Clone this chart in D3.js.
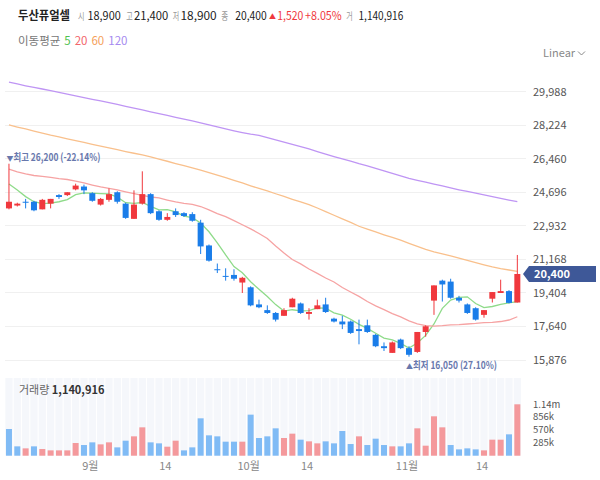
<!DOCTYPE html>
<html><head><meta charset="utf-8">
<script src="https://cdn.jsdelivr.net/npm/d3@7"></script>
<style>
html,body{margin:0;padding:0;background:#fff;}
svg{display:block;font-family:"Noto Sans CJK KR","Noto Sans",sans-serif;}
</style>
</head><body>
<svg id="chart" width="600" height="480"></svg>
<script>
// ---------- DATA ----------
const dates = ["2023-08-18","2023-08-21","2023-08-22","2023-08-23","2023-08-24","2023-08-25","2023-08-28","2023-08-29","2023-08-30","2023-08-31",
"2023-09-01","2023-09-04","2023-09-05","2023-09-06","2023-09-07","2023-09-08","2023-09-11","2023-09-12","2023-09-13","2023-09-14",
"2023-09-15","2023-09-18","2023-09-19","2023-09-20","2023-09-21","2023-09-22","2023-09-25","2023-09-26","2023-09-27",
"2023-10-04","2023-10-05","2023-10-06","2023-10-10","2023-10-11","2023-10-12","2023-10-13","2023-10-16","2023-10-17","2023-10-18",
"2023-10-19","2023-10-20","2023-10-23","2023-10-24","2023-10-25","2023-10-26","2023-10-27","2023-10-30","2023-10-31",
"2023-11-01","2023-11-02","2023-11-03","2023-11-06","2023-11-07","2023-11-08","2023-11-09","2023-11-10","2023-11-13","2023-11-14",
"2023-11-15","2023-11-16","2023-11-17","2023-11-20"];
const opens = [23850,24000,24200,24200,23800,24100,24550,24550,24850,25000,
24650,24050,24300,24700,24100,23300,24100,24600,23700,23250,
23700,23600,23550,23100,21900,20650,20300,20350,19950,
19700,18800,18500,18350,18200,18650,18850,18300,18550,18800,
18050,17900,17900,17500,17700,17200,16600,16250,16950,
16500,16300,17350,19000,20050,20000,19150,18800,18600,18250,
19100,19400,19500,18900];
const highs = [26200,24150,24350,24250,24350,24350,24600,24700,25150,25100,
24700,24400,24900,24750,24150,24800,25800,24650,23750,23600,
23850,23650,23650,23250,21950,20950,20700,20650,20250,
19750,19050,18750,18400,18600,19150,18900,18600,19050,19150,
18100,18200,17950,18000,18000,17250,16800,16850,17000,
16600,17350,17700,19800,20100,20150,19250,18850,18650,18500,
19450,20100,19550,21400];
const lows = [23800,23950,23850,23700,23800,23850,24350,24500,24800,24600,
24200,24000,24200,24100,23300,23300,24050,23550,23200,23200,
23400,23400,23150,21450,21050,20450,20050,20050,19400,
18700,18600,18300,17900,18200,18650,18300,18000,18550,18350,
17850,17500,17250,16700,17300,16550,16350,16250,16450,
16050,16250,17100,18250,18950,19100,18900,18300,17950,18100,
18900,19400,18850,18900];
const closes = [24200,24100,24150,23750,24300,24350,24450,24700,25050,24800,
24250,24350,24600,24200,23350,24050,24600,23600,23250,23400,
23500,23450,23200,21850,21100,20600,20250,20150,20200,
18750,18650,18350,18000,18500,19100,18350,18400,18750,18400,
17900,17750,17300,17400,17350,16600,16500,16800,16500,
16150,17350,17650,19800,19850,19150,19000,18350,18000,18500,
19450,19500,18880,20400];
const prevClose = 24750;
const volumes = [592700,207500,163000,207500,148200,118500,118500,118500,281500,237100,
296400,251900,296400,185200,333400,429700,629800,296400,274100,200000,
333400,118500,185200,829800,452000,429700,311200,311200,311200,
911300,392700,429700,607500,392700,489000,355600,318600,274100,318600,
274100,548300,259300,429700,237100,377900,237100,207500,207500,
274100,607500,222300,874300,629800,237100,140800,163000,140800,118500,
355600,355600,474200,1140916];
const ma5 = [25130,24820,24470,24200,24100,24130,24200,24310,24570,24670,
24650,24630,24610,24440,24150,24110,24160,23960,23770,23780,
23670,23440,23360,23080,22620,22040,21400,20790,20460,
19990,19600,19220,18790,18450,18520,18460,18470,18620,18600,
18360,18240,18020,17750,17540,17280,17030,16930,16750,
16510,16770,17170,17770,18590,19030,19170,19200,18850,18630,
18690,18800,18880,18950];
const ma20 = [25920,25770,25660,25580,25530,25480,25420,25370,25290,25190,
25080,24980,24900,24820,24720,24630,24530,24450,24400,24290,
24190,24110,24060,23950,23770,23580,23420,23210,22990,
22770,22530,22270,21870,21500,21160,20930,20660,20430,20190,
19980,19690,19450,19220,18950,18720,18530,18320,18140,
17930,17780,17680,17660,17680,17720,17740,17770,17800,17840,
17860,17900,17980,18150];
const ma60 = [28240,28130,28030,27920,27810,27700,27610,27510,27410,27320,
27220,27130,27030,26940,26840,26750,26660,26560,26440,26330,
26210,26100,25980,25860,25730,25600,25470,25330,25190,
25040,24900,24770,24620,24480,24330,24190,24050,23870,23680,
23490,23300,23110,22910,22760,22610,22460,22320,22180,
22010,21850,21690,21560,21460,21350,21240,21120,21000,20880,
20770,20680,20610,20540];
const ma120 = [30490,30400,30300,30210,30130,30040,29950,29860,29770,29680,
29590,29500,29410,29320,29220,29120,29030,28930,28830,28740,
28640,28540,28450,28350,28240,28140,28030,27930,27840,
27760,27690,27570,27460,27340,27220,27100,26980,26840,26700,
26570,26450,26330,26200,26090,25950,25820,25690,25560,
25430,25330,25230,25130,25030,24930,24830,24740,24650,24560,
24470,24380,24290,24210];
const priceTicks = [15876,17640,19404,21168,22932,24696,26460,28224,29988];
const volTicks = [285229,570458,855687,1140916];
const volTickLabels = ["285k","570k","856k","1.14m"];
const xTickDates = ["2023-09-01","2023-09-14","2023-10-04","2023-10-16","2023-11-01","2023-11-14"];
const xTickLabels = ["9월","14","10월","14","11월","14"];
const maPeriods = ["5","20","60","120"];

// ---------- STYLE ----------
const UP="#f0383d", DOWN="#1a7de9";
const VUP="#f4999c", VDOWN="#80bbf5";
const MA_COLORS=["#8fdb8a","#f6a3a3","#f9c08c","#bf95f4"];
const LEG_COLORS=["#4fc24f","#f2656b","#f5a15c","#a68af0"];

const svg=d3.select("#chart");
const n=dates.length;
const x=d3.scaleBand().domain(dates).range([4.8,521.5]).padding(0);
const cx=d=>x(d)+x.bandwidth()/2;
const bodyW=6;
const y=d3.scaleLinear().domain([15876,29988]).range([360,91.7]);
const vy=d3.scaleLinear().domain([0,d3.max(volumes)]).range([455.7,404.3]);
const fmt=d3.format(",");

function fitText(sel,w){ sel.attr("textLength",w).attr("lengthAdjust","spacingAndGlyphs"); return sel; }

// grid lines
svg.append("g").selectAll("line").data(priceTicks).join("line")
  .attr("x1",5).attr("x2",526).attr("y1",d=>y(d)).attr("y2",d=>y(d))
  .attr("stroke","#f0f0f0").attr("stroke-width",1).attr("shape-rendering","crispEdges");

// price axis (right)
const yAxis=d3.axisRight(y).tickValues(priceTicks).tickFormat(fmt).tickSize(0).tickPadding(0);
const ya=svg.append("g").attr("transform","translate(533,0)").call(yAxis);
ya.select(".domain").remove();
ya.selectAll("text").attr("font-size",11).attr("fill","#555").attr("font-family","Noto Sans CJK KR, Noto Sans, sans-serif");

// MA lines
const idx=d3.range(n);
[ma5,ma20,ma60,ma120].forEach((arr,k)=>{
  const line=d3.line().x(i=>cx(dates[i])).y(i=>y(arr[i]));
  svg.append("path").datum(idx).attr("d",line).attr("fill","none")
    .attr("stroke",MA_COLORS[k]).attr("stroke-width",1.3);
});

// candles
const cg=svg.append("g");
idx.forEach(i=>{
  const up=closes[i]>=opens[i];
  const col=up?UP:DOWN;
  const X=cx(dates[i]);
  cg.append("line").attr("x1",X).attr("x2",X).attr("y1",y(highs[i])).attr("y2",y(lows[i]))
    .attr("stroke",col).attr("stroke-width",1);
  const top=y(Math.max(opens[i],closes[i])), bot=y(Math.min(opens[i],closes[i]));
  cg.append("rect").attr("x",X-bodyW/2).attr("width",bodyW)
    .attr("y",top).attr("height",Math.max(1,bot-top)).attr("fill",col);
});

// high / low markers
const hiI=d3.maxIndex(highs), loI=d3.minIndex(lows);
const last=closes[n-1];
const pct=v=>((last-v)/v*100).toFixed(2);
const MK="#6878ad";
svg.append("text").attr("x",cx(dates[hiI])-2.5).attr("y",y(highs[hiI])-3)
  .attr("font-size",7).attr("fill",MK).text("▼");
fitText(svg.append("text").attr("x",cx(dates[hiI])+4.5).attr("y",y(highs[hiI])-3)
  .attr("font-size",10.5).attr("fill",MK).attr("font-weight",600)
  .text("최고 "+fmt(highs[hiI])+" ("+pct(highs[hiI])+"%)"),87);
svg.append("text").attr("x",cx(dates[loI])-3).attr("y",y(lows[loI])+12)
  .attr("font-size",7).attr("fill",MK).text("▲");
fitText(svg.append("text").attr("x",cx(dates[loI])+4).attr("y",y(lows[loI])+12)
  .attr("font-size",10.5).attr("fill",MK).attr("font-weight",600)
  .text("최저 "+fmt(lows[loI])+" ("+pct(lows[loI])+"%)"),84);

// current price flag
const ly=y(last);
svg.append("path").attr("d",`M523,${ly} L529,${ly-8} L596,${ly-8} L596,${ly+8} L529,${ly+8} Z`).attr("fill","#3e5898");
svg.append("text").attr("x",534).attr("y",ly+4).attr("font-size",11).attr("fill","#fff").attr("font-weight",600).text(fmt(last));

// volume panel
const vg=svg.append("g");
vg.selectAll("rect.bg").data(dates).join("rect").attr("class","bg")
  .attr("x",d=>cx(d)-3.6).attr("width",7.2).attr("y",378).attr("height",455.7-378)
  .attr("fill","#f5f7fb");
vg.selectAll("rect.v").data(idx).join("rect").attr("class","v")
  .attr("x",i=>cx(dates[i])-3).attr("width",6)
  .attr("y",i=>vy(volumes[i])).attr("height",i=>vy(0)-vy(volumes[i]))
  .attr("fill",i=>closes[i]>=(i===0?prevClose:closes[i-1])?VUP:VDOWN);
svg.append("g").selectAll("text").data(volTicks).join("text")
  .attr("x",533).attr("y",d=>vy(d)+3.3).attr("font-size",9.5).attr("fill","#555")
  .text((d,i)=>volTickLabels[i]);
const vt=svg.append("text").attr("x",19).attr("y",394).attr("font-size",11);
vt.append("tspan").attr("fill","#666").text("거래량 ");
vt.append("tspan").attr("fill","#333").attr("font-weight",600).text(fmt(volumes[n-1]));

// x axis labels
svg.append("g").selectAll("text").data(xTickDates).join("text")
  .attr("x",d=>cx(d)-2).attr("y",470).attr("text-anchor","middle")
  .attr("font-size",11).attr("fill","#888").text((d,i)=>xTickLabels[i]);

// header
const head=svg.append("g");
fitText(head.append("text").attr("x",18).attr("y",20).attr("font-weight",700).attr("font-size",12).attr("fill","#222").text("두산퓨얼셀"),52);
const change=last-closes[n-2];
const changePct=(change/closes[n-2]*100).toFixed(2);
// [x, text, colour, fitted width, font size]
const items=[
  [78,"시","#999",6.5,10],[87.5,fmt(opens[n-1]),"#222",33.2,11.5],
  [126.3,"고","#999",6.5,10],[134,fmt(highs[n-1]),"#222",34.3,11.5],
  [172.8,"저","#999",6.5,10],[180.5,fmt(lows[n-1]),"#222",36.2,11.5],
  [221.3,"종","#999",7,10],[235.3,fmt(last),"#222",31.4,11.5],
  [277.3,fmt(change),"#f0383d",26,11.5],[305,"+"+changePct+"%","#f0383d",36.7,11.5],
  [346.3,"거","#999",6.5,10],[358.5,fmt(volumes[n-1]),"#222",44.8,11.5]
];
items.forEach(([xx,t,c,w,fs])=>{
  fitText(head.append("text").attr("x",xx).attr("y",20).attr("fill",c).attr("font-size",fs).text(t),w);
});
head.append("text").attr("x",269).attr("y",19).attr("fill","#f0383d").attr("font-size",7).text("▲");
// MA legend
const lg=svg.append("text").attr("x",18).attr("y",45).attr("font-size",11.5);
lg.append("tspan").attr("fill","#777").text("이동평균");
maPeriods.forEach((p,k)=>lg.append("tspan").attr("dx",4).attr("fill",LEG_COLORS[k]).text(p));

// Linear selector
svg.append("text").attr("x",543).attr("y",57).attr("font-size",11).attr("fill","#888").text("Linear");
svg.append("path").attr("d","M578,51.5 L581.5,55 L585,51.5").attr("fill","none").attr("stroke","#888").attr("stroke-width",1);
</script>
</body></html>
